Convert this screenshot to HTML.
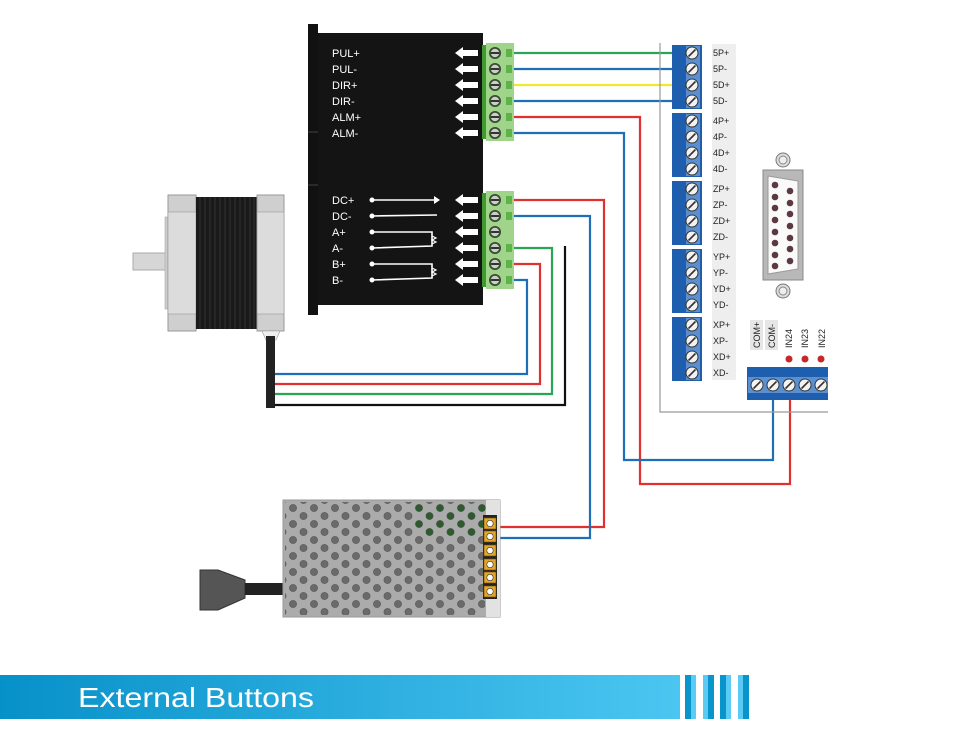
<!DOCTYPE html>
<html><head><meta charset="utf-8"><style>
html,body{margin:0;padding:0;background:#fff;width:958px;height:733px;overflow:hidden}
svg{display:block}
text{font-family:"Liberation Sans",sans-serif}
</style></head><body>
<svg width="958" height="733" viewBox="0 0 958 733" xmlns="http://www.w3.org/2000/svg">
<defs>
<pattern id="holes" x="288" y="504" width="21" height="16" patternUnits="userSpaceOnUse">
<circle cx="5" cy="4" r="3.6" fill="#6a6a6a" stroke="#555" stroke-width="0.6"/>
<circle cx="15.5" cy="12" r="3.6" fill="#6a6a6a" stroke="#555" stroke-width="0.6"/>
</pattern>
<linearGradient id="band" x1="0" x2="1"><stop offset="0" stop-color="#0791c9"/><stop offset="1" stop-color="#4bc6f1"/></linearGradient>
<g id="gs"><circle r="6" fill="#3a4a35" /><circle r="4.2" fill="#c8d0c8"/><rect x="-4.2" y="-1" width="8.4" height="2" fill="#333"/></g>
<g id="bs"><circle r="6" fill="#f2f2f2" stroke="#333" stroke-width="1"/><line x1="-3.5" y1="3.5" x2="3.5" y2="-3.5" stroke="#333" stroke-width="1.6"/></g>
<g id="arr"><rect x="7" y="-3" width="16" height="6" fill="#fff"/><polygon points="0,0 8,-6 8,6" fill="#fff"/></g>
</defs>

<!-- wires -->
<g fill="none" stroke-width="2.2">
<polyline points="512,53 676,53" stroke="#2aa455"/>
<polyline points="512,69 676,69" stroke="#1f6fb8"/>
<polyline points="512,85 676,85" stroke="#f0e82c"/>
<polyline points="512,101 676,101" stroke="#1f6fb8"/>
<polyline points="512,117 640,117 640,484 790,484 790,390" stroke="#e03030"/>
<polyline points="512,133 624,133 624,460 773,460 773,390" stroke="#1f6fb8"/>
<polyline points="512,200 604,200 604,527 497,527" stroke="#e03030"/>
<polyline points="512,216 590,216 590,538 497,538" stroke="#1f6fb8"/>
<polyline points="512,248 552,248 552,394 275,394" stroke="#2aa455"/>
<polyline points="512,264 540,264 540,384 275,384" stroke="#e03030"/>
<polyline points="512,280 527,280 527,374 275,374" stroke="#1f6fb8"/>
<polyline points="565,246 565,405 275,405" stroke="#111"/>
</g>

<!-- driver -->
<rect x="308" y="24" width="10" height="291" fill="#111"/>
<line x1="308" y1="132" x2="318" y2="132" stroke="#444"/>
<line x1="308" y1="185" x2="318" y2="185" stroke="#444"/>
<rect x="318" y="33" width="165" height="272" fill="#141414"/>
<g fill="#fff" font-size="11">
<text x="332" y="57">PUL+</text><text x="332" y="73">PUL-</text><text x="332" y="89">DIR+</text>
<text x="332" y="105">DIR-</text><text x="332" y="121">ALM+</text><text x="332" y="137">ALM-</text>
<text x="332" y="204">DC+</text><text x="332" y="220">DC-</text><text x="332" y="236">A+</text>
<text x="332" y="252">A-</text><text x="332" y="268">B+</text><text x="332" y="284">B-</text>
</g>
<g>
<use href="#arr" x="455" y="53"/><use href="#arr" x="455" y="69"/><use href="#arr" x="455" y="85"/>
<use href="#arr" x="455" y="101"/><use href="#arr" x="455" y="117"/><use href="#arr" x="455" y="133"/>
<use href="#arr" x="455" y="200"/><use href="#arr" x="455" y="216"/><use href="#arr" x="455" y="232"/>
<use href="#arr" x="455" y="248"/><use href="#arr" x="455" y="264"/><use href="#arr" x="455" y="280"/>
</g>
<g stroke="#fff" stroke-width="1.6" fill="none">
<line x1="372" y1="200" x2="436" y2="200"/><line x1="372" y1="216" x2="437" y2="215"/>
<polyline points="372,232 432,232 432,246 372,248"/>
<polyline points="372,264 432,264 432,278 372,280"/>
<polyline points="432,236 436,238 432,240 436,242 432,244" stroke-width="1.2"/>
<polyline points="432,268 436,270 432,272 436,274 432,276" stroke-width="1.2"/>
</g>
<polygon points="434,196 440,200 434,204" fill="#fff"/>
<g fill="#fff"><circle cx="372" cy="200" r="2.5"/><circle cx="372" cy="216" r="2.5"/><circle cx="372" cy="232" r="2.5"/><circle cx="372" cy="248" r="2.5"/><circle cx="372" cy="264" r="2.5"/><circle cx="372" cy="280" r="2.5"/></g>
<!-- green blocks -->
<rect x="482" y="45" width="4" height="94" fill="#3f9a30"/>
<rect x="486" y="43" width="28" height="98" fill="#9fd48a"/>
<rect x="482" y="193" width="4" height="94" fill="#3f9a30"/>
<rect x="486" y="191" width="28" height="98" fill="#9fd48a"/>
<g fill="#5fb24a">
<rect x="506" y="49" width="6" height="8"/><rect x="506" y="65" width="6" height="8"/><rect x="506" y="81" width="6" height="8"/><rect x="506" y="97" width="6" height="8"/><rect x="506" y="113" width="6" height="8"/><rect x="506" y="129" width="6" height="8"/>
<rect x="506" y="196" width="6" height="8"/><rect x="506" y="212" width="6" height="8"/><rect x="506" y="244" width="6" height="8"/><rect x="506" y="260" width="6" height="8"/><rect x="506" y="276" width="6" height="8"/>
</g>
<g>
<use href="#gs" x="495" y="53"/><use href="#gs" x="495" y="69"/><use href="#gs" x="495" y="85"/><use href="#gs" x="495" y="101"/><use href="#gs" x="495" y="117"/><use href="#gs" x="495" y="133"/>
<use href="#gs" x="495" y="200"/><use href="#gs" x="495" y="216"/><use href="#gs" x="495" y="232"/><use href="#gs" x="495" y="248"/><use href="#gs" x="495" y="264"/><use href="#gs" x="495" y="280"/>
</g>

<!-- motor -->
<rect x="133" y="253" width="33" height="17" fill="#d6d6d6" stroke="#aaa"/>
<rect x="165" y="217" width="4" height="92" fill="#ccc" stroke="#aaa" stroke-width="0.6"/>
<rect x="168" y="195" width="28" height="136" fill="#cfcfcf" stroke="#999"/>
<rect x="168" y="212" width="28" height="102" fill="#dcdcdc" stroke="#999" stroke-width="0.6"/>
<rect x="196" y="197" width="62" height="132" fill="#1a1a1a"/>
<g stroke="#3a3a3a" stroke-width="0.8">
<line x1="200" y1="197" x2="200" y2="329"/><line x1="205" y1="197" x2="205" y2="329"/><line x1="210" y1="197" x2="210" y2="329"/><line x1="215" y1="197" x2="215" y2="329"/><line x1="220" y1="197" x2="220" y2="329"/><line x1="225" y1="197" x2="225" y2="329"/><line x1="230" y1="197" x2="230" y2="329"/><line x1="235" y1="197" x2="235" y2="329"/><line x1="240" y1="197" x2="240" y2="329"/><line x1="245" y1="197" x2="245" y2="329"/><line x1="250" y1="197" x2="250" y2="329"/><line x1="254" y1="197" x2="254" y2="329"/>
</g>
<rect x="257" y="195" width="27" height="136" fill="#cfcfcf" stroke="#999"/>
<rect x="257" y="212" width="27" height="102" fill="#dcdcdc" stroke="#999" stroke-width="0.6"/>
<polygon points="262,331 280,331 276,340 266,340" fill="#eee" stroke="#999" stroke-width="0.6"/>
<rect x="266" y="336" width="9" height="72" fill="#222"/>

<!-- controller board -->
<polyline points="660,43 660,412 828,412" fill="none" stroke="#999" stroke-width="1.2"/>
<rect x="712" y="44" width="24" height="336" fill="#eeeeee"/>
<g>
<rect x="672" y="45" width="30" height="64" fill="#1d5fae"/><rect x="686" y="46" width="14" height="62" fill="#5b8fcf"/>
<rect x="672" y="113" width="30" height="64" fill="#1d5fae"/><rect x="686" y="114" width="14" height="62" fill="#5b8fcf"/>
<rect x="672" y="181" width="30" height="64" fill="#1d5fae"/><rect x="686" y="182" width="14" height="62" fill="#5b8fcf"/>
<rect x="672" y="249" width="30" height="64" fill="#1d5fae"/><rect x="686" y="250" width="14" height="62" fill="#5b8fcf"/>
<rect x="672" y="317" width="30" height="64" fill="#1d5fae"/><rect x="686" y="318" width="14" height="62" fill="#5b8fcf"/>
</g>
<g>
<use href="#bs" x="692" y="53"/><use href="#bs" x="692" y="69"/><use href="#bs" x="692" y="85"/><use href="#bs" x="692" y="101"/>
<use href="#bs" x="692" y="121"/><use href="#bs" x="692" y="137"/><use href="#bs" x="692" y="153"/><use href="#bs" x="692" y="169"/>
<use href="#bs" x="692" y="189"/><use href="#bs" x="692" y="205"/><use href="#bs" x="692" y="221"/><use href="#bs" x="692" y="237"/>
<use href="#bs" x="692" y="257"/><use href="#bs" x="692" y="273"/><use href="#bs" x="692" y="289"/><use href="#bs" x="692" y="305"/>
<use href="#bs" x="692" y="325"/><use href="#bs" x="692" y="341"/><use href="#bs" x="692" y="357"/><use href="#bs" x="692" y="373"/>
</g>
<g font-size="9" fill="#222">
<text x="713" y="56">5P+</text><text x="713" y="72">5P-</text><text x="713" y="88">5D+</text><text x="713" y="104">5D-</text>
<text x="713" y="124">4P+</text><text x="713" y="140">4P-</text><text x="713" y="156">4D+</text><text x="713" y="172">4D-</text>
<text x="713" y="192">ZP+</text><text x="713" y="208">ZP-</text><text x="713" y="224">ZD+</text><text x="713" y="240">ZD-</text>
<text x="713" y="260">YP+</text><text x="713" y="276">YP-</text><text x="713" y="292">YD+</text><text x="713" y="308">YD-</text>
<text x="713" y="328">XP+</text><text x="713" y="344">XP-</text><text x="713" y="360">XD+</text><text x="713" y="376">XD-</text>
</g>
<!-- DB15 -->
<circle cx="783" cy="160" r="7" fill="#ddd" stroke="#777"/><circle cx="783" cy="160" r="4" fill="#eee" stroke="#888"/>
<circle cx="783" cy="291" r="7" fill="#ddd" stroke="#777"/><circle cx="783" cy="291" r="4" fill="#eee" stroke="#888"/>
<rect x="763" y="170" width="40" height="110" fill="#b8b8b8" stroke="#888"/>
<polygon points="768,176 798,181 798,269 768,274" fill="#fafafa" stroke="#999"/>
<g fill="#5a3a40">
<circle cx="775" cy="185" r="3.3"/><circle cx="775" cy="197" r="3.3"/><circle cx="775" cy="208" r="3.3"/><circle cx="775" cy="220" r="3.3"/><circle cx="775" cy="232" r="3.3"/><circle cx="775" cy="243" r="3.3"/><circle cx="775" cy="255" r="3.3"/><circle cx="775" cy="266" r="3.3"/>
<circle cx="790" cy="191" r="3.3"/><circle cx="790" cy="203" r="3.3"/><circle cx="790" cy="214" r="3.3"/><circle cx="790" cy="226" r="3.3"/><circle cx="790" cy="238" r="3.3"/><circle cx="790" cy="249" r="3.3"/><circle cx="790" cy="261" r="3.3"/>
</g>
<rect x="750" y="320" width="13" height="30" fill="#e6e6e6"/><rect x="765" y="320" width="13" height="30" fill="#e6e6e6"/>
<g font-size="9" fill="#222">
<text transform="translate(760,348) rotate(-90)">COM+</text>
<text transform="translate(775,348) rotate(-90)">COM-</text>
<text transform="translate(792,348) rotate(-90)">IN24</text>
<text transform="translate(808,348) rotate(-90)">IN23</text>
<text transform="translate(825,348) rotate(-90)">IN22</text>
</g>
<g fill="#c62828"><circle cx="789" cy="359" r="3.5"/><circle cx="805" cy="359" r="3.5"/><circle cx="821" cy="359" r="3.5"/></g>
<rect x="747" y="367" width="81" height="33" fill="#1d5fae"/>
<rect x="748" y="377" width="80" height="16" fill="#5b8fcf"/>
<g><use href="#bs" x="757" y="385"/><use href="#bs" x="773" y="385"/><use href="#bs" x="789" y="385"/><use href="#bs" x="805" y="385"/><use href="#bs" x="821" y="385"/></g>

<!-- PSU -->
<polygon points="200,570 218,570 245,580 245,598 218,610 200,610" fill="#555" stroke="#333"/>
<rect x="245" y="583" width="38" height="12" fill="#222"/>
<rect x="283" y="500" width="217" height="117" fill="#ababab" stroke="#999"/>
<rect x="285" y="502" width="200" height="113" fill="url(#holes)"/>
<g fill="#2f5a2f">
<circle cx="419" cy="508" r="3.6"/><circle cx="440" cy="508" r="3.6"/><circle cx="461" cy="508" r="3.6"/><circle cx="482" cy="508" r="3.6"/>
<circle cx="429.5" cy="516" r="3.6"/><circle cx="450.5" cy="516" r="3.6"/><circle cx="471.5" cy="516" r="3.6"/>
<circle cx="419" cy="524" r="3.6"/><circle cx="440" cy="524" r="3.6"/><circle cx="461" cy="524" r="3.6"/><circle cx="482" cy="524" r="3.6"/>
<circle cx="429.5" cy="532" r="3.6"/><circle cx="450.5" cy="532" r="3.6"/><circle cx="471.5" cy="532" r="3.6"/>
</g>
<rect x="486" y="500" width="14" height="117" fill="#e2e2e2"/>
<rect x="483" y="515" width="14" height="84" fill="#222"/>
<g fill="#e3a52a" stroke="#6b4a10" stroke-width="0.6">
<rect x="484" y="518" width="12" height="11"/><rect x="484" y="531" width="12" height="11"/><rect x="484" y="545" width="12" height="11"/><rect x="484" y="559" width="12" height="11"/><rect x="484" y="572" width="12" height="11"/><rect x="484" y="586" width="12" height="11"/>
</g>
<g fill="#fff" stroke="#333" stroke-width="0.6"><circle cx="490" cy="523.5" r="3.2"/><circle cx="490" cy="536.5" r="3.2"/><circle cx="490" cy="550.5" r="3.2"/><circle cx="490" cy="564.5" r="3.2"/><circle cx="490" cy="577.5" r="3.2"/><circle cx="490" cy="591.5" r="3.2"/></g>

<!-- footer -->
<rect x="0" y="675" width="680" height="44" fill="url(#band)"/>
<g>
<rect x="685" y="675" width="6" height="44" fill="#0895cc"/><rect x="691" y="675" width="5" height="44" fill="#5ccbf3"/>
<rect x="703" y="675" width="5" height="44" fill="#5ccbf3"/><rect x="708" y="675" width="6" height="44" fill="#0895cc"/>
<rect x="720" y="675" width="6" height="44" fill="#0895cc"/><rect x="726" y="675" width="5" height="44" fill="#5ccbf3"/>
<rect x="738" y="675" width="5" height="44" fill="#5ccbf3"/><rect x="743" y="675" width="6" height="44" fill="#0895cc"/>
</g>
<text x="78" y="707" font-size="28" fill="#fff" textLength="236" lengthAdjust="spacingAndGlyphs">External Buttons</text>
</svg>
</body></html>
